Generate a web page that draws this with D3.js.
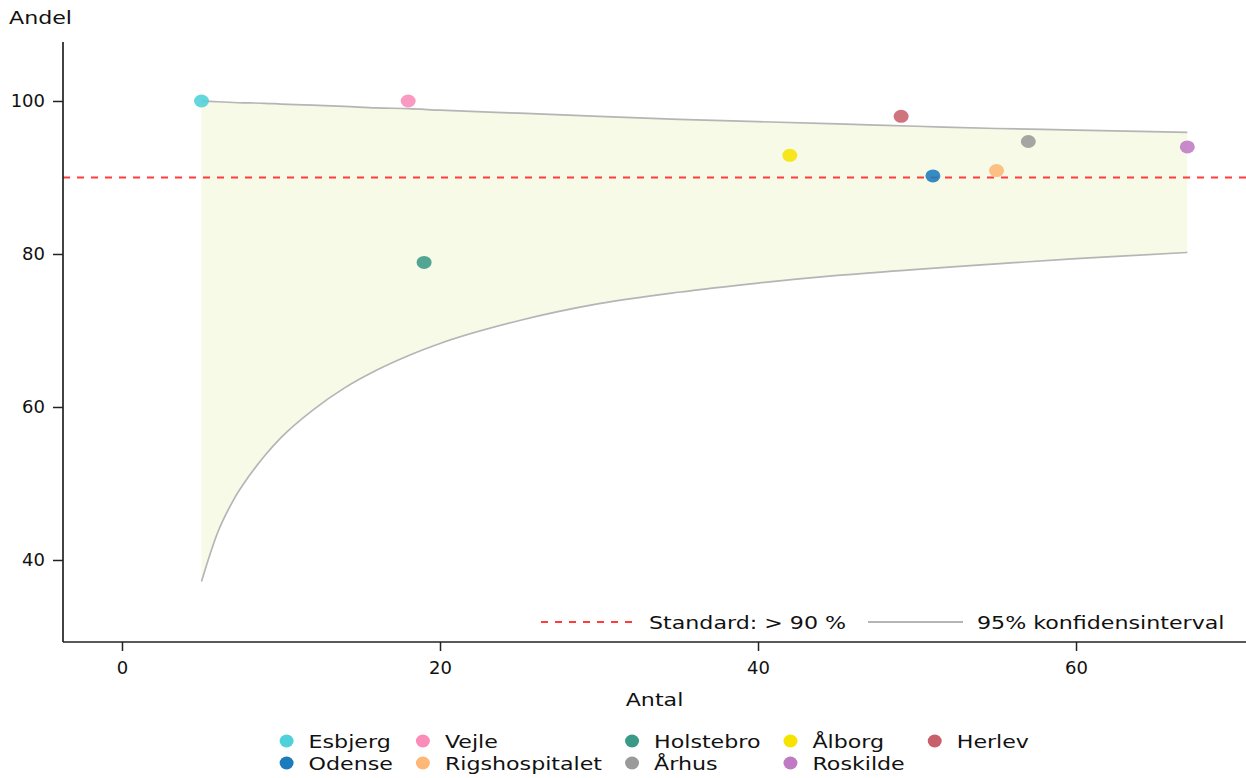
<!DOCTYPE html>
<html>
<head>
<meta charset="utf-8">
<script src="https://cdn.jsdelivr.net/npm/d3@7"></script>
<style>
  body { margin: 0; background: #fff; }
  text { font-family: "DejaVu Sans", sans-serif; fill: #111; }
</style>
</head>
<body>
<div id="chart"></div>
<script>
// hospitals, in legend order (column by column)
const hospitals = ["Esbjerg", "Odense", "Vejle", "Rigshospitalet", "Holstebro", "Århus", "Ålborg", "Roskilde", "Herlev"];
const antal = [5, 51, 18, 55, 19, 57, 42, 67, 49];
const andel = [100, 90.2, 100, 90.9, 78.9, 94.7, 92.9, 94.0, 98.0];
const colors = ["#4fd1d9", "#1b7bbd", "#f98cb9", "#fdb777", "#3a9a88", "#9a9a9a", "#f7e300", "#c07ac4", "#c8606b"];

// confidence band
const ciN = [5, 6, 7, 8, 9, 10, 12, 14, 16, 18, 20, 25, 30, 35, 40, 45, 50, 55, 60, 67];
const ciLower = [37.2, 43.5, 47.8, 51.0, 53.7, 56.0, 59.6, 62.5, 64.8, 66.7, 68.3, 71.3, 73.5, 75.0, 76.2, 77.2, 78.0, 78.7, 79.4, 80.2];
const ciUpper = [100, 99.9, 99.8, 99.75, 99.7, 99.6, 99.45, 99.3, 99.1, 99.0, 98.8, 98.4, 98.0, 97.6, 97.3, 97.0, 96.7, 96.4, 96.2, 95.9];

const standard = 90;
const xTicks = [0, 20, 40, 60];
const yTicks = [40, 60, 80, 100];

const W = 1246, H = 778;
const mLeft = 63, mRight = 1246, mTop = 42, mBottom = 642;
const fontSize = 18;
const stretch = 1.23; // labels are drawn slightly wide

const svg = d3.select("#chart").append("svg").attr("width", W).attr("height", H);

const x = d3.scaleLinear().domain([-3.71, 70.69]).range([mLeft, mRight]);
const y = d3.scaleLinear().domain([29.28, 107.71]).range([mBottom, mTop]);

const band = ciN.map((n, i) => ({ n: n, lo: ciLower[i], hi: ciUpper[i] }));

// stretch a text element horizontally, returns the new width
function widen(sel) {
  const w = sel.node().getComputedTextLength() * stretch;
  sel.attr("textLength", w).attr("lengthAdjust", "spacingAndGlyphs");
  return w;
}

// band fill
svg.append("path")
  .datum(band)
  .attr("fill", "#f7fae7")
  .attr("d", d3.area().x(d => x(d.n)).y0(d => y(d.lo)).y1(d => y(d.hi)).curve(d3.curveMonotoneX));

// band edges
["lo", "hi"].forEach(k => {
  svg.append("path")
    .datum(band)
    .attr("fill", "none")
    .attr("stroke", "#b5b5b5")
    .attr("stroke-width", 1.7)
    .attr("d", d3.line().x(d => x(d.n)).y(d => y(d[k])).curve(d3.curveMonotoneX));
});

// standard line
svg.append("line")
  .attr("x1", mLeft).attr("x2", mRight)
  .attr("y1", y(standard)).attr("y2", y(standard))
  .attr("stroke", "#ff3b3b")
  .attr("stroke-width", 1.8)
  .attr("stroke-dasharray", "7,7");

// points
svg.append("g").selectAll("ellipse")
  .data(hospitals)
  .join("ellipse")
  .attr("cx", (d, i) => x(antal[i]))
  .attr("cy", (d, i) => y(andel[i]))
  .attr("rx", 7.5).attr("ry", 6.5)
  .attr("fill", (d, i) => colors[i])
  .attr("fill-opacity", 0.88);

// axes
const yAxis = svg.append("g")
  .attr("transform", "translate(" + mLeft + ",0)")
  .call(d3.axisLeft(y).tickValues(yTicks).tickSize(10).tickPadding(8));
const xAxis = svg.append("g")
  .attr("transform", "translate(0," + mBottom + ")")
  .call(d3.axisBottom(x).tickValues(xTicks).tickSize(9).tickPadding(10));

[yAxis, xAxis].forEach(a => {
  a.select(".domain").attr("stroke", "#222").attr("stroke-width", 1.7);
  a.selectAll(".tick line").attr("stroke", "#222").attr("stroke-width", 1.5);
  a.selectAll(".tick text").attr("font-size", fontSize).attr("fill", "#111")
    .style("font-family", "DejaVu Sans, sans-serif");
});
// domain paths without outer ticks
yAxis.select(".domain").attr("d", "M0," + mTop + "V" + mBottom);
xAxis.select(".domain").attr("d", "M" + mLeft + ",0H" + mRight);

// axis titles
widen(svg.append("text")
  .attr("x", 9).attr("y", 24)
  .attr("font-size", fontSize)
  .text("Andel"));
const xt = svg.append("text")
  .attr("y", 706)
  .attr("font-size", fontSize)
  .text("Antal");
const xtW = widen(xt);
xt.attr("x", (mLeft + mRight) / 2 - xtW / 2);

// inner legend (bottom right)
const inner = svg.append("g");
inner.append("line")
  .attr("x1", 541).attr("x2", 636).attr("y1", 622).attr("y2", 622)
  .attr("stroke", "#ff3b3b").attr("stroke-width", 1.8).attr("stroke-dasharray", "7,7");
widen(inner.append("text")
  .attr("x", 649).attr("y", 629).attr("font-size", fontSize)
  .text("Standard: > 90 %"));
inner.append("line")
  .attr("x1", 868).attr("x2", 963).attr("y1", 622).attr("y2", 622)
  .attr("stroke", "#b5b5b5").attr("stroke-width", 2);
widen(inner.append("text")
  .attr("x", 977).attr("y", 629).attr("font-size", fontSize)
  .text("95% konfidensinterval"));

// bottom legend: two rows, filled column by column
const legend = svg.append("g");
const rows = 2;
const cols = Math.ceil(hospitals.length / rows);
let colX = 0;
for (let c = 0; c < cols; c++) {
  let maxW = 0;
  for (let r = 0; r < rows; r++) {
    const i = c * rows + r;
    if (i >= hospitals.length) break;
    const g = legend.append("g").attr("transform", "translate(" + colX + "," + (741 + r * 22) + ")");
    g.append("ellipse").attr("cx", 0).attr("cy", 0).attr("rx", 7).attr("ry", 6.5).attr("fill", colors[i]);
    const t = g.append("text")
      .attr("x", 22).attr("y", 6.5).attr("font-size", fontSize)
      .text(hospitals[i]);
    maxW = Math.max(maxW, widen(t));
  }
  colX += 22 + maxW + 30;
}
const bb = legend.node().getBBox();
legend.attr("transform", "translate(" + ((mLeft + mRight) / 2 - (bb.x + bb.width / 2)) + ",0)");
</script>
</body>
</html>
